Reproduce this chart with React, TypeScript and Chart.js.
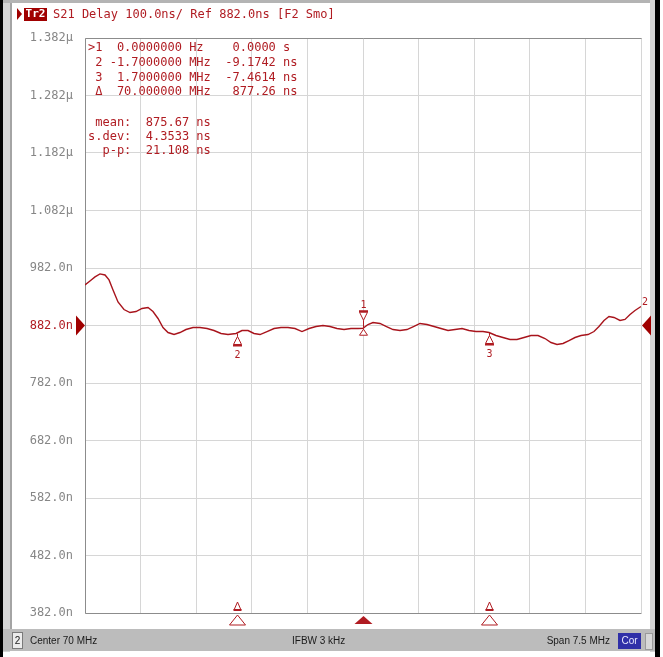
import React, { useEffect, useRef } from "react";
import { Chart, registerables } from "chart.js";
Chart.register(...registerables);

// ---- data ----
const freqMHz = [
  66.25, 66.317, 66.385, 66.452, 66.52, 66.574, 66.628, 66.695, 66.776, 66.857,
  66.938, 67.019, 67.1, 67.167, 67.235, 67.302, 67.37, 67.451, 67.531, 67.612,
  67.707, 67.801, 67.896, 67.99, 68.085, 68.179, 68.287, 68.368, 68.449, 68.53,
  68.611, 68.705, 68.8, 68.894, 68.988, 69.083, 69.177, 69.272, 69.366, 69.46,
  69.555, 69.649, 69.744, 69.838, 69.933, 70.0, 70.067, 70.135, 70.229, 70.31,
  70.405, 70.499, 70.593, 70.688, 70.769, 70.863, 70.958, 71.052, 71.147, 71.241,
  71.336, 71.43, 71.524, 71.619, 71.7, 71.794, 71.888, 71.983, 72.077, 72.172,
  72.266, 72.361, 72.455, 72.536, 72.617, 72.698, 72.779, 72.86, 72.941, 73.035,
  73.116, 73.183, 73.251, 73.318, 73.386, 73.467, 73.534, 73.602, 73.669, 73.75,
];
const delayNs = [
  952.4, 959.4, 966.5, 971.7, 969.9, 961.3, 943.9, 922.9, 909.8, 904.6,
  906.3, 911.6, 913.3, 906.3, 894.2, 878.5, 869.8, 866.3, 869.8, 875.0,
  878.5, 878.5, 876.8, 873.3, 868.1, 866.3, 868.1, 873.3, 873.3, 868.1,
  866.3, 871.5, 876.8, 878.5, 878.5, 876.8, 871.5, 876.8, 880.3, 882.0,
  880.3, 876.8, 875.0, 876.8, 876.8, 877.26, 883.7, 887.2, 885.5, 880.3,
  875.0, 873.3, 875.0, 880.3, 885.5, 883.7, 880.3, 876.8, 873.3, 875.0,
  876.8, 873.3, 871.5, 871.5, 869.8, 864.6, 861.1, 857.7, 857.7, 861.1,
  864.6, 864.6, 859.4, 852.4, 849.0, 850.7, 855.9, 861.1, 864.6, 866.3,
  871.5, 880.3, 890.7, 897.7, 896.0, 890.7, 892.5, 901.1, 908.1, 915.0,
];
const xGridMHz = [66.25, 67.0, 67.75, 68.5, 69.25, 70.0, 70.75, 71.5, 72.25, 73.0, 73.75];
const yTicksNs = [382, 482, 582, 682, 782, 882, 982, 1082, 1182, 1282, 1382];
const refLevelNs = 882;
const markerIds = ["1", "2", "3"];
const markerFreqMHz = [70.0, 68.3, 71.7];
const markerDelayNs = [877.26, 868.09, 869.8];
const headerText = "S21 Delay 100.0ns/ Ref 882.0ns [F2 Smo]";
const markerTable = [
  ">1  0.0000000 Hz    0.0000 s",
  " 2 -1.7000000 MHz  -9.1742 ns",
  " 3  1.7000000 MHz  -7.4614 ns",
  " \u0394  70.000000 MHz   877.26 ns",
];
const statsTable = [" mean:  875.67 ns", "s.dev:  4.3533 ns", "  p-p:  21.108 ns"];
const statusLeft = "Center 70 MHz";
const statusMid = "IFBW 3 kHz";
const statusRight = "Span 7.5 MHz";

// ---- styles ----
const RED = "#b01c22";
const TRACE = "#a8141c";
const GRID = "#d6d6d6";
const FRAME = "#8c8c8c";
const MONO = "DejaVu Sans Mono, monospace";

function tri(c: CanvasRenderingContext2D, cx: number, apexY: number, hw: number, h: number, up: boolean, filled: boolean) {
  const baseY = up ? apexY + h : apexY - h;
  c.beginPath();
  c.moveTo(cx, apexY);
  c.lineTo(cx - hw, baseY);
  c.lineTo(cx + hw, baseY);
  c.closePath();
  if (filled) {
    c.fillStyle = RED;
    c.fill();
  } else {
    c.fillStyle = "#fff";
    c.fill();
    c.strokeStyle = RED;
    c.lineWidth = 1;
    c.stroke();
  }
}

const decor = {
  id: "decor",
  beforeDraw(chart: any) {
    const c: CanvasRenderingContext2D = chart.ctx;
    c.save();
    c.fillStyle = "#fff";
    c.fillRect(0, 0, chart.width, chart.height);
    // frame
    c.fillStyle = "#000";
    c.fillRect(0, 0, 3, 657);
    c.fillStyle = "#d4d4d4";
    c.fillRect(3, 0, 7, 652);
    c.fillStyle = "#a4a4a4";
    c.fillRect(10, 3, 2, 626);
    c.fillStyle = "#b4b4b4";
    c.fillRect(3, 0, 652, 3);
    c.fillStyle = "#d4d4d4";
    c.fillRect(650, 0, 5, 652);
    c.fillStyle = "#000";
    c.fillRect(655, 0, 5, 657);
    // status bar
    c.fillStyle = "#bcbcbc";
    c.fillRect(3, 629, 652, 22);
    c.fillStyle = "#ececec";
    c.fillRect(12, 632, 10, 16);
    c.strokeStyle = "#7a7a7a";
    c.lineWidth = 1;
    c.strokeRect(12.5, 632.5, 10, 16);
    c.fillStyle = "#2f2fa8";
    c.fillRect(618, 633, 23, 16);
    c.fillStyle = "#d8d8d8";
    c.fillRect(645, 633, 7, 16);
    c.strokeStyle = "#9a9a9a";
    c.strokeRect(645.5, 633.5, 7, 16);
    c.textBaseline = "middle";
    c.font = "10px 'Liberation Sans', Arial, sans-serif";
    c.fillStyle = "#1a1a1a";
    c.textAlign = "center";
    c.fillText("2", 17.5, 641);
    c.textAlign = "left";
    c.fillText(statusLeft, 30, 641);
    c.fillText(statusMid, 292, 641);
    c.textAlign = "right";
    c.fillText(statusRight, 610, 641);
    c.textAlign = "center";
    c.fillStyle = "#e8e8ff";
    c.fillText("Cor", 629.5, 641);
    // header
    c.fillStyle = "#a00000";
    c.beginPath();
    c.moveTo(17, 8);
    c.lineTo(22, 14);
    c.lineTo(17, 20);
    c.closePath();
    c.fill();
    c.fillRect(24, 8, 23, 13);
    c.fillStyle = "#fff";
    c.font = "bold 11px " + MONO;
    c.textAlign = "center";
    c.fillText("Tr2", 35.5, 14.5);
    c.fillStyle = RED;
    c.font = "12px " + MONO;
    c.textAlign = "left";
    c.fillText(headerText, 53, 14.5);
    c.restore();
  },
  beforeDatasetsDraw(chart: any) {
    const c: CanvasRenderingContext2D = chart.ctx;
    const a = chart.chartArea;
    c.save();
    c.strokeStyle = FRAME;
    c.lineWidth = 1;
    c.beginPath();
    c.moveTo(Math.round(a.left) + 0.5, Math.round(a.bottom) + 0.5);
    c.lineTo(Math.round(a.left) + 0.5, Math.round(a.top) + 0.5);
    c.lineTo(Math.round(a.right) + 0.5, Math.round(a.top) + 0.5);
    c.moveTo(Math.round(a.left) + 0.5, Math.round(a.bottom) + 0.5);
    c.lineTo(Math.round(a.right) + 0.5, Math.round(a.bottom) + 0.5);
    c.stroke();
    c.restore();
  },
  afterDatasetsDraw(chart: any) {
    const c: CanvasRenderingContext2D = chart.ctx;
    const a = chart.chartArea;
    const xs = chart.scales.x;
    const ys = chart.scales.y;
    c.save();
    // marker table
    c.fillStyle = RED;
    c.font = "12px " + MONO;
    c.textAlign = "left";
    c.textBaseline = "middle";
    const rowY = [48, 63, 78, 92];
    markerTable.forEach((t, i) => c.fillText(t, 88, rowY[i]));
    const statY = [123, 137, 151];
    statsTable.forEach((t, i) => c.fillText(t, 88, statY[i]));

    // reference level arrows
    const yr = ys.getPixelForValue(refLevelNs);
    c.fillStyle = "#a00000";
    c.beginPath();
    c.moveTo(a.left - 9, yr - 10);
    c.lineTo(a.left, yr);
    c.lineTo(a.left - 9, yr + 10);
    c.closePath();
    c.fill();
    c.beginPath();
    c.moveTo(a.right + 10, yr - 10);
    c.lineTo(a.right + 1, yr);
    c.lineTo(a.right + 10, yr + 10);
    c.closePath();
    c.fill();

    // trace end label
    const yEnd = ys.getPixelForValue(delayNs[delayNs.length - 1]);
    c.font = "10px " + MONO;
    c.fillStyle = RED;
    c.textAlign = "left";
    c.fillText("2", a.right + 1, yEnd - 4);

    // markers on trace
    c.textAlign = "center";
    markerIds.forEach((id, i) => {
      const px = Math.round(xs.getPixelForValue(markerFreqMHz[i])) + 0.5;
      const py = ys.getPixelForValue(markerDelayNs[i]);
      c.strokeStyle = RED;
      c.lineWidth = 1;
      c.fillStyle = RED;
      c.font = "10px " + MONO;
      if (i === 0) {
        c.fillText(id, px, py - 23);
        c.fillRect(px - 4.5, py - 18, 9, 2);
        tri(c, px, py - 8, 4, 8, false, false);
        c.beginPath();
        c.moveTo(px, py - 8);
        c.lineTo(px, py);
        c.stroke();
        tri(c, px, py + 1, 4, 6, true, false);
      } else {
        c.beginPath();
        c.moveTo(px, py);
        c.lineTo(px, py + 3);
        c.stroke();
        tri(c, px, py + 3, 4, 8, true, false);
        c.fillStyle = RED;
        c.fillRect(px - 4.5, py + 11, 9, 2);
        c.fillText(id, px, py + 22);
      }
      // bottom indicators
      const b = a.bottom;
      if (i === 0) {
        tri(c, px, b + 3, 9, 8, true, true);
      } else {
        tri(c, px, b - 11, 3.5, 8, true, false);
        c.fillStyle = RED;
        c.fillRect(px - 4, b - 4, 8, 2);
        tri(c, px, b + 2, 8, 10, true, false);
      }
    });
    c.restore();
  },
};

function fmtY(v: number): string {
  return v >= 1000 ? (v / 1000).toFixed(3) + "\u00b5" : v.toFixed(1) + "n";
}

export default function App() {
  const ref = useRef<HTMLCanvasElement>(null);
  useEffect(() => {
    const points = freqMHz.map((f, i) => ({ x: f, y: delayNs[i] }));
    const chart = new Chart(ref.current as HTMLCanvasElement, {
      type: "line",
      data: {
        datasets: [
          {
            data: points,
            borderColor: TRACE,
            borderWidth: 1.4,
            pointRadius: 0,
            tension: 0,
            fill: false,
          },
        ],
      },
      options: {
        responsive: false,
        maintainAspectRatio: false,
        animation: false,
        events: [],
        layout: { padding: { left: 0, top: 38, right: 22, bottom: 44 } },
        plugins: { legend: { display: false }, tooltip: { enabled: false } },
        scales: {
          x: {
            type: "linear",
            min: xGridMHz[0],
            max: xGridMHz[xGridMHz.length - 1],
            afterBuildTicks: (s: any) => {
              s.ticks = xGridMHz.map((v) => ({ value: v }));
            },
            afterFit: (s: any) => {
              s.height = 0;
            },
            ticks: { display: false },
            grid: { color: GRID, drawTicks: false, lineWidth: 1 },
            border: { display: false },
          },
          y: {
            type: "linear",
            min: yTicksNs[0],
            max: yTicksNs[yTicksNs.length - 1],
            afterBuildTicks: (s: any) => {
              s.ticks = yTicksNs.map((v) => ({ value: v }));
            },
            afterFit: (s: any) => {
              s.width = 85;
            },
            ticks: {
              padding: 12,
              color: (ctx: any) => (ctx.tick && ctx.tick.value === refLevelNs ? RED : "#868686"),
              font: { family: MONO, size: 12 },
              callback: (v: any) => fmtY(Number(v)),
            },
            grid: { color: GRID, drawTicks: false, lineWidth: 1 },
            border: { display: false },
          },
        },
      } as any,
      plugins: [decor as any],
    });
    return () => chart.destroy();
  }, []);
  return (
    <div style={{ position: "absolute", left: 0, top: 0, width: 663, height: 657 }}>
      <canvas ref={ref} width={663} height={657} style={{ display: "block" }} />
    </div>
  );
}
